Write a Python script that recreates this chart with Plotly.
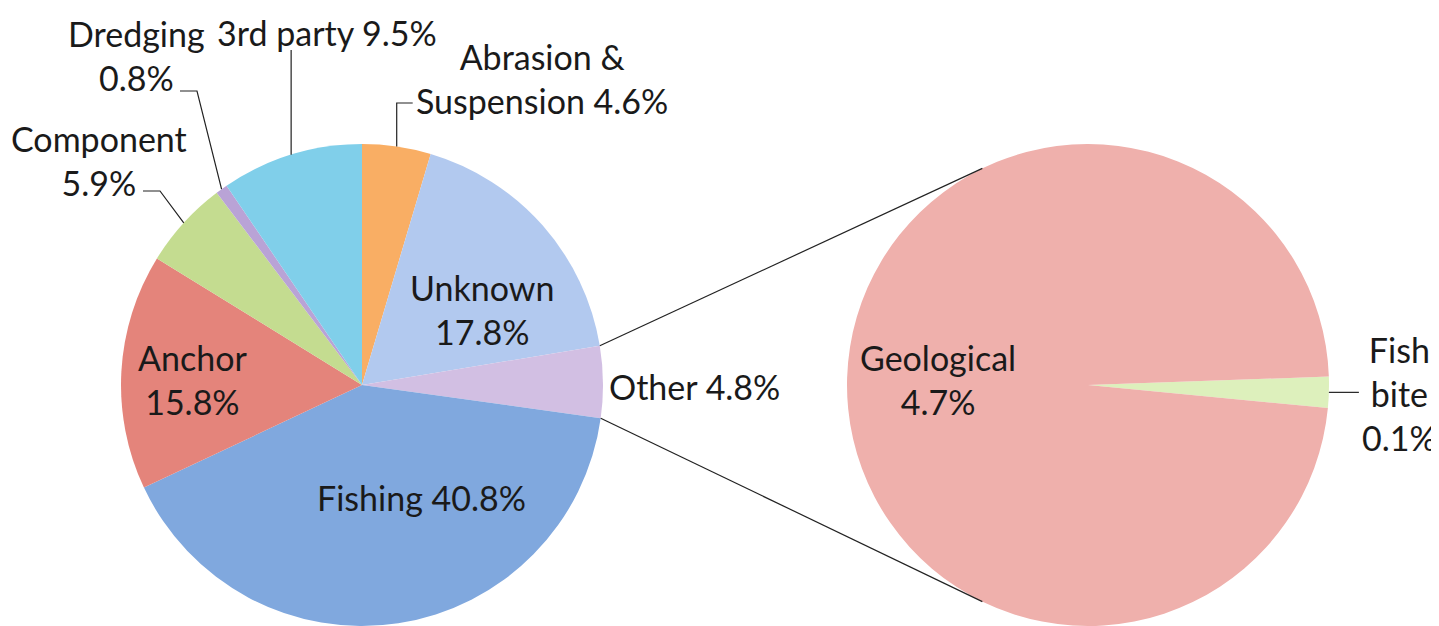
import math
import plotly.graph_objects as go

# ---------------- data ----------------
main_labels = ["Abrasion &<br>Suspension", "Unknown", "Other", "Fishing",
               "Anchor", "Component", "Dredging", "3rd party"]
main_values = [4.6, 17.8, 4.8, 40.8, 15.8, 5.9, 0.8, 9.5]
main_colors = ["#F9AE64", "#B2C9EF", "#D2BFE3", "#80A8DE",
               "#E4847B", "#C4DC90", "#B9A3D6", "#80CFEA"]

sub_labels = ["Fish<br>bite", "Geological"]
sub_values = [0.1, 4.7]
sub_colors = ["#DDF0BC", "#EFB0AC"]

# ---------------- layout geometry (page pixels) ----------------
W, H = 1439, 626
OFF = 8              # default page body margin
R = 241
C1 = (362, 385)      # centre of main pie
C2 = (1088, 385)     # centre of secondary pie
SUB_ROT = 88         # start angle of the secondary pie
CONN_ANGLE = 26      # where connectors meet the secondary pie (deg from vertical)
FONT = "Lato"
FS = 34
TXT = "#1a1a1a"


def px(x):
    return (x - OFF) / W


def py(y):
    return 1 - (y - OFF) / H


def dom(c):
    return dict(x=[px(c[0] - R), px(c[0] + R)], y=[py(c[1] + R), py(c[1] - R)])


def pt(c, ang_deg, r=R):
    a = math.radians(ang_deg)
    return (c[0] + r * math.sin(a), c[1] - r * math.cos(a))


# cumulative angles of main pie slices (clockwise from 12 o'clock)
tot = sum(main_values)
starts, mids = [], []
acc = 0.0
for v in main_values:
    starts.append(acc / tot * 360)
    mids.append((acc + v / 2) / tot * 360)
    acc += v
ends = [s + v / tot * 360 for s, v in zip(starts, main_values)]

fig = go.Figure()
fig.add_trace(go.Pie(labels=main_labels, values=main_values, sort=False,
                     direction="clockwise", rotation=0, textinfo="none",
                     marker=dict(colors=main_colors, line=dict(width=0)),
                     domain=dom(C1), showlegend=False, hoverinfo="label+percent"))
fig.add_trace(go.Pie(labels=sub_labels, values=sub_values, sort=False,
                     direction="clockwise", rotation=SUB_ROT, textinfo="none",
                     marker=dict(colors=sub_colors, line=dict(width=0)),
                     domain=dom(C2), showlegend=False, hoverinfo="label+value"))

shapes = []


def line(points, width=1.2):
    path = "M " + " L ".join(f"{px(x)},{py(y)}" for x, y in points)
    shapes.append(dict(type="path", xref="paper", yref="paper", path=path,
                       line=dict(color="#222222", width=width)))


# connector lines from the "Other" slice to the secondary pie
oi = main_labels.index("Other")
p_top = pt(C1, starts[oi])
p_bot = pt(C1, ends[oi])
line([p_top, pt(C2, 360 - CONN_ANGLE)])
line([p_bot, pt(C2, 180 + CONN_ANGLE)])

# leader lines for outside labels (start on slice rim from data)
a = pt(C1, mids[0])
line([a, (a[0], 103), (a[0] + 16, 103)])
a = pt(C1, mids[7])
line([a, (a[0], 50)])
a = pt(C1, mids[6])
line([a, (197, 91), (180, 91)])
a = pt(C1, mids[5])
line([a, (160, 191), (143, 191)])
sub_tot = sum(sub_values)
fb = pt(C2, SUB_ROT + sub_values[0] / sub_tot * 180)
line([fb, (fb[0] + 30, fb[1])])


def pct(v):
    return f"{v:.1f}%"


ann = []


def label(text, x, y):
    ann.append(dict(text=text, x=px(x), y=py(y), xref="paper", yref="paper",
                    showarrow=False, xanchor="center", yanchor="middle",
                    align="center", font=dict(family=FONT, size=FS, color=TXT)))


label(f"{main_labels[0]} {pct(main_values[0])}", 542, 78)
label(f"{main_labels[1]}<br>{pct(main_values[1])}", 482, 309)
label(f"{main_labels[2]} {pct(main_values[2])}", 694, 386)
label(f"{main_labels[3]} {pct(main_values[3])}", 421, 497)
label(f"{main_labels[4]}<br>{pct(main_values[4])}", 192, 380)
label(f"{main_labels[5]}<br>{pct(main_values[5])}", 99, 160)
label(f"{main_labels[6]}<br>{pct(main_values[6])}", 136, 55)
label(f"{main_labels[7]} {pct(main_values[7])}", 327, 32)
label(f"{sub_labels[1]}<br>{pct(sub_values[1])}", 938, 380)
label(f"{sub_labels[0]}<br>{pct(sub_values[0])}", 1399, 393)

fig.update_layout(width=W, height=H, margin=dict(l=0, r=0, t=0, b=0),
                  paper_bgcolor="white", plot_bgcolor="white",
                  shapes=shapes, annotations=ann, showlegend=False)
fig.write_html("out.html")
